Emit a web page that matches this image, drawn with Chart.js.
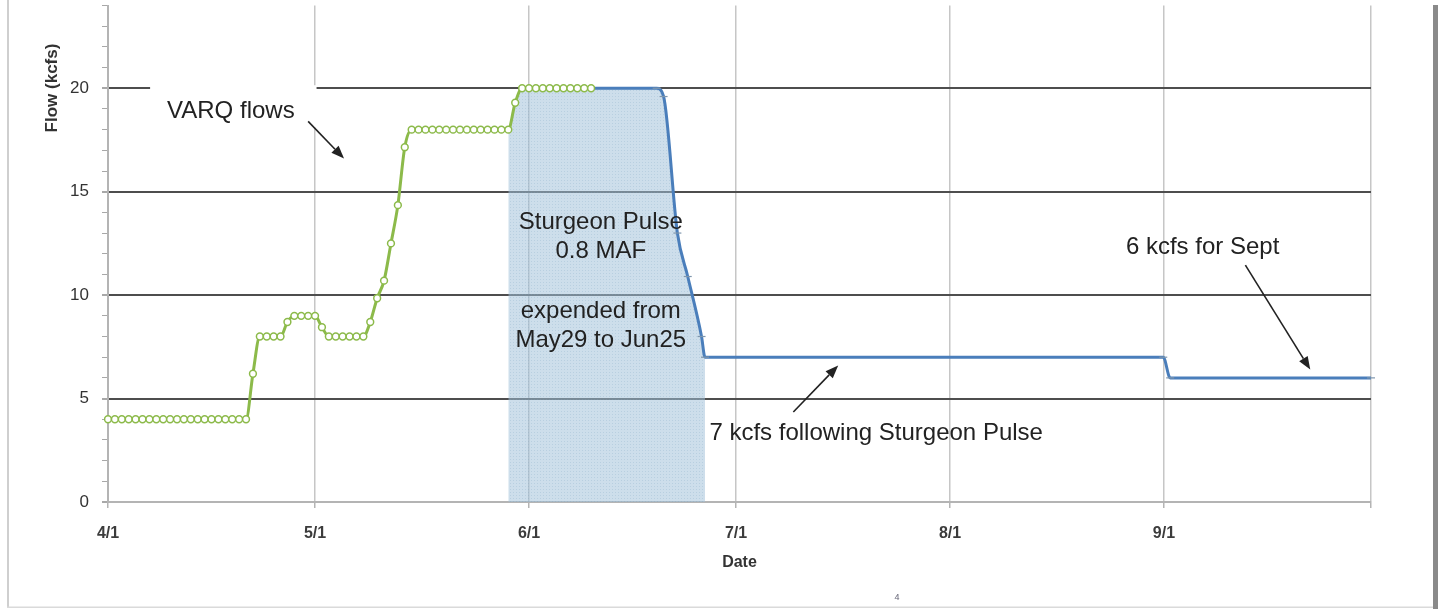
<!DOCTYPE html>
<html>
<head>
<meta charset="utf-8">
<script src="https://cdn.jsdelivr.net/npm/chart.js@4.4.1/dist/chart.umd.min.js"></script>
<style>
  html, body { margin: 0; background: #fff; }
  #wrap { position: relative; width: 1442px; height: 609px; }
</style>
</head>
<body>
<div id="wrap"><canvas id="flowChart" width="1442" height="609"></canvas></div>
<script>
// ── Dados (dias contados a partir de 4/1) ─────────────────────────────────
const MONTH_TICKS  = [0, 30, 61, 91, 122, 153, 183];
const MONTH_LABELS = ['4/1', '5/1', '6/1', '7/1', '8/1', '9/1', ''];
const Y_MAX = 24;

// VARQ flows (verde, um ponto por dia)
const VARQ_DAYS = [0,1,2,3,4,5,6,7,8,9,10,11,12,13,14,15,16,17,18,19,20,
  21,22,23,24,25,26,27,28,29,30,31,32,33,34,35,36,37,38,39,40,41,42,43,
  44,45,46,47,48,49,50,51,52,53,54,55,56,57,58,59,60,61,62,63,64,65,66,67,68,69,70];
const VARQ_FLOW = [4,4,4,4,4,4,4,4,4,4,4,4,4,4,4,4,4,4,4,4,4,
  6.2,8,8,8,8,8.7,9,9,9,9,8.45,8,8,8,8,8,8,8.7,9.85,10.7,12.5,14.35,17.15,
  18,18,18,18,18,18,18,18,18,18,18,18,18,18,18,19.3,20,20,20,20,20,20,20,20,20,20,20];

// Sturgeon Pulse (área sombreada, May29 a Jun25)
const PULSE_DAYS = [58,59,60,61,62,63,64,65,66,67,68,69,70,79.5,80.5,82.5,84,86,86.5];
const PULSE_FLOW = [18,19.3,20,20,20,20,20,20,20,20,20,20,20,20,19.6,13,10.9,8,7];

// Vazão após o pulso (azul)
const AFTER_DAYS = [70,79.5,80.5,82.5,84,86,86.5,152.9,153.9,183];
const AFTER_FLOW = [20,20,19.6,13,10.9,8,7,7,6,6];

const GREEN = '#8cba4a';
const BLUE  = '#4a7ebb';
const TXT   = '#222';

function pts(xs, ys) { return xs.map((d, i) => ({ x: d, y: ys[i] })); }

function pulsePattern() {
  const c = document.createElement('canvas'); c.width = c.height = 3;
  const g = c.getContext('2d');
  g.fillStyle = 'rgba(160,192,216,0.52)'; g.fillRect(0, 0, 3, 3);
  g.fillStyle = 'rgba(120,158,190,0.25)'; g.fillRect(0, 0, 1, 1);
  return g.createPattern(c, 'repeat');
}

function arrow(ctx, x1, y1, x2, y2) {
  const a = Math.atan2(y2 - y1, x2 - x1), L = 13, W = 5;
  const bx = x2 - L * Math.cos(a), by = y2 - L * Math.sin(a);
  ctx.strokeStyle = TXT; ctx.fillStyle = TXT; ctx.lineWidth = 1.6;
  ctx.beginPath(); ctx.moveTo(x1, y1); ctx.lineTo(bx, by); ctx.stroke();
  ctx.beginPath();
  ctx.moveTo(x2, y2);
  ctx.lineTo(bx + W * Math.sin(a), by - W * Math.cos(a));
  ctx.lineTo(bx - W * Math.sin(a), by + W * Math.cos(a));
  ctx.closePath(); ctx.fill();
}

// ── Anotações, título do eixo Y e moldura ────────────────────────────────
const annotations = {
  id: 'annotations',
  afterDraw(chart) {
    const { ctx, scales: { x, y } } = chart;
    const px = d => x.getPixelForValue(d), py = v => y.getPixelForValue(v);
    ctx.save();

    // caixa branca da legenda "VARQ flows" (corta as grades)
    ctx.fillStyle = '#fff';
    ctx.fillRect(px(6.1), py(20) - 3, px(30) + 1.5 - px(6.1), py(18.1) - py(20) + 3);

    ctx.font = '24px "Liberation Sans", Arial, sans-serif';
    ctx.fillStyle = TXT; ctx.textAlign = 'center'; ctx.textBaseline = 'middle';
    ctx.fillText('VARQ flows', px(17.8), py(18.9));
    ctx.fillText('Sturgeon Pulse', px(71.4), py(13.5));
    ctx.fillText('0.8 MAF', px(71.4), py(12.1));
    ctx.fillText('expended from', px(71.4), py(9.2));
    ctx.fillText('May29 to Jun25', px(71.4), py(7.8));
    ctx.fillText('6 kcfs for Sept', px(158.6), py(12.3));
    ctx.fillText('7 kcfs following Sturgeon Pulse', px(111.3), py(3.33));

    arrow(ctx, px(29), py(18.4), px(34.2), py(16.6));
    arrow(ctx, px(164.8), py(11.45), px(174.2), py(6.4));
    arrow(ctx, px(99.3), py(4.35), px(105.8), py(6.6));

    // título do eixo Y (no topo, como no original)
    ctx.save();
    ctx.translate(52, 88); ctx.rotate(-Math.PI / 2);
    ctx.font = 'bold 17px "Liberation Sans", Arial, sans-serif';
    ctx.fillStyle = '#333';
    ctx.fillText('Flow (kcfs)', 0, 0);
    ctx.restore();

    // moldura da página
    ctx.fillStyle = '#cfcfcf'; ctx.fillRect(7, 0, 2, 607);
    ctx.fillStyle = '#dadada'; ctx.fillRect(7, 606.5, 1427, 1.5);
    ctx.fillStyle = '#8a8a8a'; ctx.fillRect(1433, 5, 5, 604);
    ctx.font = '9px "Liberation Sans", Arial, sans-serif';
    ctx.fillStyle = '#667';
    ctx.fillText('4', 897, 598);
    ctx.restore();
  },
};

new Chart(document.getElementById('flowChart'), {
  type: 'line',
  data: {
    datasets: [
      {
        label: 'VARQ flows', data: pts(VARQ_DAYS, VARQ_FLOW), order: 0,
        borderColor: GREEN, borderWidth: 3, cubicInterpolationMode: 'monotone',
        pointStyle: 'circle', pointRadius: 3.4, pointBorderWidth: 1.5,
        pointBorderColor: GREEN, pointBackgroundColor: '#fff', clip: false,
      },
      {
        label: 'Flow', data: pts(AFTER_DAYS, AFTER_FLOW), order: 1,
        borderColor: BLUE, borderWidth: 3, cubicInterpolationMode: 'monotone',
        pointStyle: 'line', pointRadius: 4, pointBorderWidth: 1.2,
        pointBorderColor: '#7f96ad', clip: false,
      },
      {
        label: 'Sturgeon Pulse', data: pts(PULSE_DAYS, PULSE_FLOW), order: 2,
        borderWidth: 0, pointRadius: 0, cubicInterpolationMode: 'monotone',
        fill: 'origin', backgroundColor: pulsePattern(),
      },
    ],
  },
  options: {
    responsive: false, animation: false,
    layout: { padding: { left: 8, right: 71, top: 5, bottom: 0 } },
    plugins: { legend: { display: false }, tooltip: { enabled: false } },
    scales: {
      x: {
        type: 'linear', min: 0, max: MONTH_TICKS[MONTH_TICKS.length - 1],
        afterBuildTicks: s => { s.ticks = MONTH_TICKS.map(v => ({ value: v })); },
        afterFit: s => { s.height = 107; s.paddingLeft = 0; s.paddingRight = 0; },
        grid: { color: '#c6c6c6', lineWidth: 1.5, tickLength: 6, tickColor: '#b4b4b4' },
        border: { color: '#b4b4b4', width: 2 },
        ticks: {
          autoSkip: false, maxRotation: 0, padding: 16, color: '#3c3c3c',
          font: { family: '"Liberation Sans", Arial, sans-serif', size: 16, weight: 'bold' },
          callback: v => MONTH_LABELS[MONTH_TICKS.indexOf(v)] ?? '',
        },
        title: {
          display: true, text: 'Date', color: '#333', padding: { top: 0, bottom: 37 },
          font: { family: '"Liberation Sans", Arial, sans-serif', size: 16, weight: 'bold' },
        },
      },
      y: {
        min: 0, max: Y_MAX,
        afterFit: s => { s.width = 100; s.paddingTop = 0; s.paddingBottom = 0; },
        grid: {
          tickLength: 6, tickColor: '#a8a8a8',
          color: c => (c.tick && c.tick.value > 0 && c.tick.value % 5 === 0) ? '#4e4e4e' : 'rgba(0,0,0,0)',
          lineWidth: c => (c.tick && c.tick.value % 5 === 0) ? 2 : 1,
        },
        border: { color: '#b4b4b4', width: 2 },
        ticks: {
          stepSize: 1, autoSkip: false, padding: 13, color: '#333',
          font: { family: '"Liberation Sans", Arial, sans-serif', size: 17 },
          callback: v => (v % 5 === 0 && v <= 20) ? String(v) : '',
        },
      },
    },
  },
  plugins: [annotations],
});
</script>
</body>
</html>
